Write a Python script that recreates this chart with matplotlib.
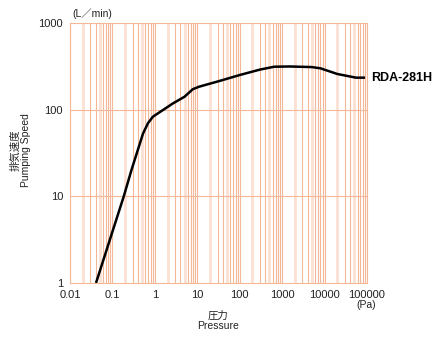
import numpy as np
import matplotlib.pyplot as plt

plt.rcParams['font.family'] = ['Liberation Sans', 'Noto Sans CJK JP', 'DejaVu Sans']

# pressure (Pa) vs pumping speed (L/min)
pressure = [0.041, 0.185, 0.28, 0.526, 0.69, 0.90, 1.55, 2.66, 5.0, 7.8, 11,
            33, 100, 300, 650, 1500, 5000, 8000, 20000, 55000, 90000]
speed = [1, 10, 20, 53, 70, 83, 99, 118, 141, 172, 184,
         214, 251, 290, 313, 315, 310, 300, 258, 234, 234]

x_ticks = [0.01, 0.1, 1, 10, 100, 1000, 10000, 100000]
x_labels = ['0.01', '0.1', '1', '10', '100', '1000', '10000', '100000']
y_ticks = [1, 10, 100, 1000]
y_labels = ['1', '10', '100', '1000']
model = 'RDA-281H'

grid_c = '#f4b798'
light_c = '#fce0d3'

fig = plt.figure(figsize=(4.42, 3.43), dpi=100)
ax = fig.add_axes([70/442, 60/343, 297/442, 260/343])
ax.set_xscale('log')
ax.set_yscale('log')
ax.set_xlim(0.01, 100000)
ax.set_ylim(1, 1000)

# grid: 2 and 5 lines wide and pale, the rest thin
for d in range(-2, 5):
    for m in range(2, 10):
        v = m * 10.0 ** d
        if m in (2, 5):
            ax.axvline(v, color=light_c, lw=2.0, zorder=0)
        else:
            ax.axvline(v, color=grid_c, lw=0.8, zorder=0)
for v in x_ticks:
    ax.axvline(v, color=grid_c, lw=0.8, zorder=0)
for v in y_ticks[1:-1]:
    ax.axhline(v, color=grid_c, lw=0.8, zorder=0)

for s in ax.spines.values():
    s.set_color(grid_c)
    s.set_linewidth(0.8)

ax.plot(pressure, speed, color='black', lw=1.8, solid_capstyle='butt')

ax.set_xticks(x_ticks)
ax.set_xticklabels(x_labels)
ax.set_yticks(y_ticks)
ax.set_yticklabels(y_labels)
ax.minorticks_off()
ax.tick_params(length=0, labelsize=8, colors='#222222', pad=5)

fig.text(72/442, 1 - 14/343, '(L／min)', fontsize=7.5, va='center', ha='left',
         color='#222222')
fig.text(366/442, 1 - 305/343, '(Pa)', fontsize=7.5, va='center', ha='center',
         color='#222222')
fig.text(218/442, 1 - 321/343, '圧力\nPressure', fontsize=7.5, va='center',
         ha='center', linespacing=1.0, color='#222222')
fig.text(21/442, 1 - 150/343, '排気速度\nPumping Speed', fontsize=7.5,
         va='center', ha='center', rotation=90, linespacing=1.0,
         color='#222222')
fig.text(371/442, 1 - 78/343, model, fontsize=9, fontweight='bold',
         va='center', ha='left', color='black')

plt.savefig('out.png', dpi=100)
